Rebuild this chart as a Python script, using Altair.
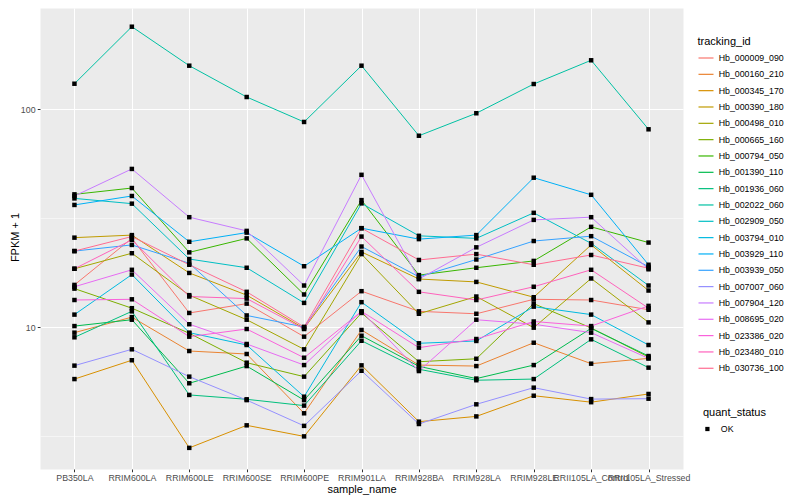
import altair as alt
import pandas as pd

samples = ["PB350LA", "RRIM600LA", "RRIM600LE", "RRIM600SE", "RRIM600PE", "RRIM901LA",
           "RRIM928BA", "RRIM928LA", "RRIM928LE", "RRII105LA_Control", "RRII105LA_Stressed"]

Hb_000009_090 = [15.6, 25.5, 11.6, 12.8, 9.03, 14.6, 11.8, 11.5, 13.4, 13.3, 12.0]
Hb_000160_210 = [9.42, 11.1, 7.76, 7.52, 4.02, 9.69, 6.69, 6.62, 8.47, 6.79, 7.18]
Hb_000345_170 = [5.77, 7.04, 2.79, 3.54, 3.15, 6.67, 3.68, 3.89, 4.84, 4.52, 4.93]
Hb_000390_180 = [25.7, 26.4, 17.7, 14.0, 9.86, 22.1, 16.6, 16.1, 13.7, 23.8, 14.7]
Hb_000498_010 = [18.5, 21.8, 14.0, 10.8, 7.90, 21.6, 11.5, 13.8, 9.93, 16.7, 10.5]
Hb_000665_160 = [15.0, 12.2, 9.36, 6.86, 5.92, 11.6, 6.93, 7.15, 12.8, 9.90, 7.28]
Hb_000794_050 = [40.6, 43.4, 22.0, 25.5, 14.1, 38.2, 17.3, 18.7, 20.1, 28.8, 24.4]
Hb_001390_110 = [10.1, 10.8, 5.52, 6.62, 4.62, 9.12, 6.6, 5.8, 6.69, 9.86, 7.36]
Hb_001936_060 = [8.97, 11.8, 4.88, 4.66, 4.36, 8.65, 6.4, 5.7, 5.77, 8.78, 6.51]
Hb_002022_060 = [130.6, 238.5, 158.0, 113.5, 87.2, 158.0, 75.4, 95.6, 130.2, 167.3, 80.7]
Hb_002909_050 = [38.9, 36.8, 20.5, 18.7, 12.9, 36.9, 26.2, 25.5, 33.4, 24.2, 15.5]
Hb_003794_010 = [11.4, 17.4, 9.42, 8.27, 4.79, 13.0, 8.42, 8.63, 12.4, 11.4, 8.27]
Hb_003929_110 = [36.3, 39.9, 24.6, 27.1, 19.0, 28.4, 25.3, 26.4, 48.4, 40.4, 19.3]
Hb_003939_050 = [22.3, 23.8, 19.6, 11.3, 10.0, 23.4, 17.0, 20.4, 24.8, 26.1, 18.9]
Hb_007007_060 = [6.65, 7.90, 5.92, 4.62, 3.52, 6.30, 3.59, 4.42, 5.27, 4.67, 4.69]
Hb_007904_120 = [39.9, 53.1, 31.9, 27.6, 15.5, 49.9, 16.6, 23.2, 31.0, 31.9, 18.4]
Hb_008695_020 = [15.3, 18.3, 10.3, 8.36, 6.69, 11.8, 6.28, 10.8, 10.3, 9.42, 7.18]
Hb_023386_020 = [13.3, 13.4, 9.03, 9.79, 7.23, 11.8, 8.04, 8.81, 10.6, 10.1, 12.5]
Hb_023480_010 = [18.5, 25.1, 13.8, 13.5, 9.79, 26.0, 14.5, 13.3, 15.3, 18.3, 12.2]
Hb_030736_100 = [22.3, 26.0, 19.3, 14.5, 10.0, 28.4, 20.3, 21.6, 19.3, 21.4, 18.6]

series = {
    "Hb_000009_090": Hb_000009_090, "Hb_000160_210": Hb_000160_210,
    "Hb_000345_170": Hb_000345_170, "Hb_000390_180": Hb_000390_180,
    "Hb_000498_010": Hb_000498_010, "Hb_000665_160": Hb_000665_160,
    "Hb_000794_050": Hb_000794_050, "Hb_001390_110": Hb_001390_110,
    "Hb_001936_060": Hb_001936_060, "Hb_002022_060": Hb_002022_060,
    "Hb_002909_050": Hb_002909_050, "Hb_003794_010": Hb_003794_010,
    "Hb_003929_110": Hb_003929_110, "Hb_003939_050": Hb_003939_050,
    "Hb_007007_060": Hb_007007_060, "Hb_007904_120": Hb_007904_120,
    "Hb_008695_020": Hb_008695_020, "Hb_023386_020": Hb_023386_020,
    "Hb_023480_010": Hb_023480_010, "Hb_030736_100": Hb_030736_100,
}

colors = ["#F8766D", "#EA8331", "#D89000", "#C09B00", "#A3A500", "#7CAE00", "#39B600",
          "#00BB4E", "#00BF7D", "#00C1A3", "#00BFC4", "#00BAE0", "#00B0F6", "#35A2FF",
          "#9590FF", "#C77CFF", "#E76BF3", "#FA62DB", "#FF62BC", "#FF6C91"]

y_ticks = [3.1623, 10, 31.623, 100]
y_domain = [2.232, 290.6]

rows = []
for name, vals in series.items():
    for s, v in zip(samples, vals):
        rows.append({"tracking_id": name, "sample_name": s, "fpkm": v, "quant_status": "OK"})
df = pd.DataFrame(rows)

FONT = "Liberation Sans"
major = "datum.value == 10 || datum.value == 100"

x = alt.X(
    "sample_name:N", sort=samples,
    scale=alt.Scale(type="point", padding=0.6),
    axis=alt.Axis(
        title="sample_name", labelAngle=0, labelFontSize=8.8, labelColor="#4D4D4D",
        labelPadding=1.4, labelOverlap=False, labelFlush=False,
        tickSize=2.75, tickColor="#333333", tickWidth=1, domain=False,
        grid=True, gridColor="white", gridWidth=1.07,
        titleFontSize=11, titleFontWeight="normal", titleColor="black",
        titleX=321.5, titleY=20, titleBaseline="middle", titleAlign="center",
    ),
)
y = alt.Y(
    "fpkm:Q",
    scale=alt.Scale(type="log", domain=y_domain, nice=False),
    axis=alt.Axis(
        title="FPKM + 1", values=y_ticks, format="d",
        labelExpr="(" + major + ") ? datum.label : ''",
        labelFontSize=8.8, labelColor="#4D4D4D", labelPadding=2.2,
        tickSize=2.75, tickWidth=1,
        tickColor={"condition": {"test": major, "value": "#333333"}, "value": "rgba(0,0,0,0)"},
        domain=False, grid=True, gridColor="white",
        gridWidth={"condition": {"test": major, "value": 1.07}, "value": 0.53},
        titleFontSize=11, titleFontWeight="normal", titleColor="black",
        titleX=-25, titleY=229, titleAngle=270, titleBaseline="middle", titleAlign="center",
    ),
)

lines = alt.Chart(df).mark_line(strokeWidth=1.0).encode(
    x=x, y=y,
    color=alt.Color(
        "tracking_id:N",
        scale=alt.Scale(domain=list(series.keys()), range=colors),
        legend=alt.Legend(
            title="tracking_id", orient="none", legendX=657.5, legendY=27.5,
            symbolType="stroke", symbolSize=225, symbolStrokeWidth=1.2,
            rowPadding=2.33, labelFontSize=8.8, labelColor="black", labelOffset=4.2,
            titleFontSize=11, titleFontWeight="normal", titleColor="black",
            titlePadding=3, padding=0,
        ),
    ),
)

points = alt.Chart(df).mark_point(filled=True, size=20, opacity=1, color="black").encode(
    x=x, y=y,
    shape=alt.Shape(
        "quant_status:N",
        scale=alt.Scale(domain=["OK"], range=["square"]),
        legend=alt.Legend(
            title="quant_status", orient="none", legendX=663, legendY=398.8,
            symbolSize=18, symbolFillColor="black", labelFontSize=8.8, labelColor="black",
            labelOffset=9, titleFontSize=11, titleFontWeight="normal", titleColor="black",
            titlePadding=6.8, padding=0,
        ),
    ),
)

chart = alt.layer(lines, points).properties(
    width=643, height=461,
    autosize=alt.AutoSizeParams(type="none"),
    padding={"left": 32, "top": 0, "right": 109, "bottom": 27},
).configure(font=FONT).configure_view(fill="#EBEBEB", stroke="transparent")

chart.save("out.html", embed_options={"renderer": "svg", "actions": False})
